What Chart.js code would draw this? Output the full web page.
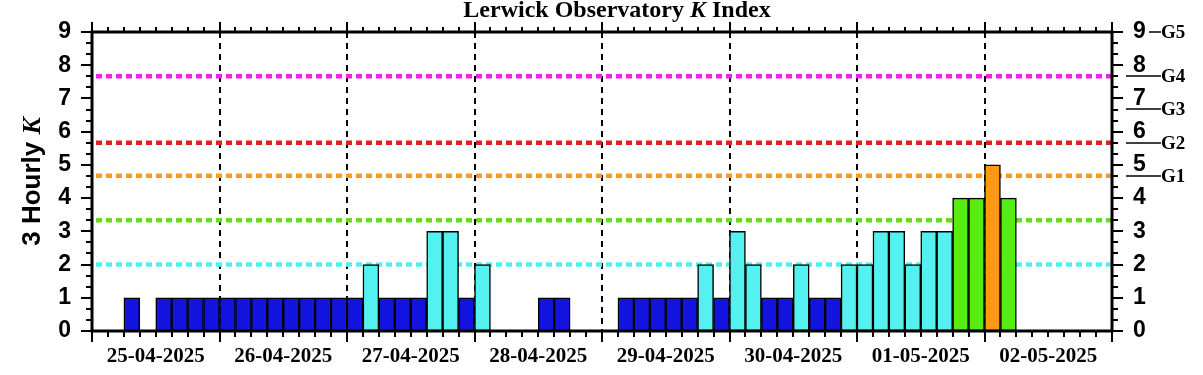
<!DOCTYPE html>
<html>
<head>
<meta charset="utf-8">
<script src="https://cdn.jsdelivr.net/npm/chart.js@4.4.0/dist/chart.umd.min.js"></script>
<style>
  html, body { margin: 0; padding: 0; background: #fff; }
  canvas { display: block; }
</style>
</head>
<body>
<canvas id="kchart" width="1203" height="375"></canvas>
<script>
// day labels, one per day, 8 three-hour slots per day
const dayLabels = ["25-04-2025", "26-04-2025", "27-04-2025", "28-04-2025",
                   "29-04-2025", "30-04-2025", "01-05-2025", "02-05-2025"];

// 3-hourly K values, null = no data
const kValues = [
  null, null, 1, null, 1, 1, 1, 1,
  1, 1, 1, 1, 1, 1, 1, 1,
  1, 2, 1, 1, 1, 3, 3, 1,
  2, null, null, null, 1, 1, null, null,
  null, 1, 1, 1, 1, 1, 2, 1,
  3, 2, 1, 1, 2, 1, 1, 2,
  2, 3, 3, 2, 3, 3, 4, 4,
  5, 4, null, null, null, null, null, null
];

// storm threshold lines
const thresholdValues = [2, 3.33, 4.67, 5.67, 7.67];
const thresholdColors = ["#55eeee", "#66dd22", "#ff9922", "#dd2222", "#ee22ee"];

// G-scale markers on the right axis
const gLevels = [4.67, 5.67, 6.67, 7.67, 9];
const gNames = ["G1", "G2", "G3", "G4", "G5"];

const yTicks = [0, 1, 2, 3, 4, 5, 6, 7, 8, 9];

function barColor(v) {
  if (v <= 1) return "#1414e0";
  if (v <= 3) return "#55f0f0";
  if (v == 4) return "#55ee11";
  if (v == 5) return "#ff9911";
  return "#ee2222";
}

const slots = kValues.length;

const lineSets = thresholdValues.map((t, i) => ({
  type: "line",
  data: [{x: 0, y: t}, {x: slots, y: t}],
  borderColor: thresholdColors[i],
  borderWidth: 4.5,
  borderDash: [6, 4],
  borderDashOffset: -4,
  pointRadius: 0,
  order: 2
}));

const framePlugin = {
  id: "frame",
  beforeDatasetsDraw(chart) {
    const ctx = chart.ctx, a = chart.chartArea, x = chart.scales.x;
    ctx.save();
    ctx.strokeStyle = "#000";
    ctx.lineWidth = 2;
    ctx.setLineDash([6, 5]);
    for (let d = 1; d < dayLabels.length; d++) {
      const px = Math.round(x.getPixelForValue(d * 8));
      ctx.beginPath();
      ctx.moveTo(px, a.top);
      ctx.lineTo(px, a.bottom);
      ctx.stroke();
    }
    ctx.restore();
  },
  afterDraw(chart) {
    const ctx = chart.ctx, a = chart.chartArea;
    const x = chart.scales.x, y = chart.scales.y;
    ctx.save();
    ctx.strokeStyle = "#000";
    ctx.lineWidth = 2;
    ctx.beginPath();
    // left / right ticks
    for (let k = 0; k <= 27; k++) {
      const py = Math.round(y.getPixelForValue(k / 3));
      const len = k % 3 == 0 ? 11 : 6;
      ctx.moveTo(a.left - len, py); ctx.lineTo(a.left, py);
      ctx.moveTo(a.right, py); ctx.lineTo(a.right + len, py);
    }
    // top / bottom ticks
    for (let i = 0; i <= slots; i++) {
      const px = Math.round(x.getPixelForValue(i));
      const major = i % 8 == 0;
      ctx.moveTo(px, a.top - (major ? 10 : 5)); ctx.lineTo(px, a.top + (major ? 5 : 0));
      ctx.moveTo(px, a.bottom); ctx.lineTo(px, a.bottom + (major ? 11 : 6));
    }
    ctx.stroke();
    ctx.lineWidth = 3;
    ctx.strokeRect(a.left, a.top, a.right - a.left, a.bottom - a.top);

    // G scale
    ctx.lineWidth = 1.5;
    ctx.font = "bold 19px 'Liberation Serif'";
    ctx.fillStyle = "#000";
    ctx.textBaseline = "middle";
    ctx.textAlign = "left";
    gLevels.forEach((g, i) => {
      const py = Math.round(y.getPixelForValue(g));
      const x0 = i == gLevels.length - 1 ? a.right + 37 : a.right + 14;
      ctx.beginPath();
      ctx.moveTo(x0, py); ctx.lineTo(a.right + 49, py);
      ctx.stroke();
      ctx.fillText(gNames[i], a.right + 49, py + 1);
    });

    // title with italic K
    const parts = [["Lerwick Observatory ", "bold 24px 'Liberation Serif'"],
                   ["K", "italic bold 24px 'Liberation Serif'"],
                   [" Index", "bold 24px 'Liberation Serif'"]];
    let w = 0;
    parts.forEach(p => { ctx.font = p[1]; w += ctx.measureText(p[0]).width; });
    let tx = (a.left + a.right) / 2 + 15 - w / 2;
    parts.forEach(p => { ctx.font = p[1]; ctx.fillText(p[0], tx, 11); tx += ctx.measureText(p[0]).width; });

    // y title
    ctx.translate(33, (a.top + a.bottom) / 2);
    ctx.rotate(-Math.PI / 2);
    const yparts = [["3 Hourly ", "bold 26px 'Liberation Sans'"],
                    ["K", "italic bold 26px 'Liberation Serif'"]];
    w = 0;
    yparts.forEach(p => { ctx.font = p[1]; w += ctx.measureText(p[0]).width; });
    tx = -w / 2;
    yparts.forEach(p => { ctx.font = p[1]; ctx.fillText(p[0], tx, 0); tx += ctx.measureText(p[0]).width; });
    ctx.restore();
  }
};

const yTickFont = { family: "'Liberation Sans'", size: 23, weight: "bold" };

function fitY(width) {
  return s => { s.width = width; s.paddingTop = 0; s.paddingBottom = 0; };
}

new Chart(document.getElementById("kchart"), {
  type: "bar",
  data: {
    datasets: [{
      data: kValues.map((v, i) => ({x: i + 0.5, y: v})),
      backgroundColor: kValues.map(v => v == null ? "transparent" : barColor(v)),
      borderColor: "#000",
      borderWidth: 1.5,
      borderSkipped: false,
      barPercentage: 1,
      categoryPercentage: 1,
      order: 1
    }].concat(lineSets)
  },
  options: {
    responsive: false,
    animation: false,
    devicePixelRatio: 1,
    layout: { padding: { top: 32, left: 0, right: 0, bottom: 0 } },
    plugins: { legend: { display: false }, tooltip: { enabled: false } },
    scales: {
      x: {
        type: "linear",
        min: 0,
        max: slots,
        offset: false,
        grid: { display: false, drawTicks: false, offset: false },
        border: { display: false },
        afterBuildTicks: s => { s.ticks = dayLabels.map((_, i) => ({value: i * 8 + 4})); },
        afterFit: s => { s.height = 44; s.paddingLeft = 0; s.paddingRight = 0; },
        ticks: {
          autoSkip: false,
          maxRotation: 0,
          padding: 13,
          color: "#000",
          font: { family: "'Liberation Serif'", size: 21, weight: "bold" },
          callback: (v, i) => dayLabels[i]
        }
      },
      y: {
        position: "left",
        min: 0,
        max: 9,
        grid: { display: false, drawTicks: false },
        border: { display: false },
        afterBuildTicks: s => { s.ticks = yTicks.map(v => ({value: v})); },
        afterFit: fitY(92),
        ticks: { padding: 21, color: "#000", font: yTickFont }
      },
      y2: {
        position: "right",
        min: 0,
        max: 9,
        grid: { display: false, drawTicks: false },
        border: { display: false },
        afterBuildTicks: s => { s.ticks = yTicks.map(v => ({value: v})); },
        afterFit: fitY(91),
        ticks: { padding: 21, color: "#000", font: yTickFont }
      }
    }
  },
  plugins: [framePlugin]
});
</script>
</body>
</html>
